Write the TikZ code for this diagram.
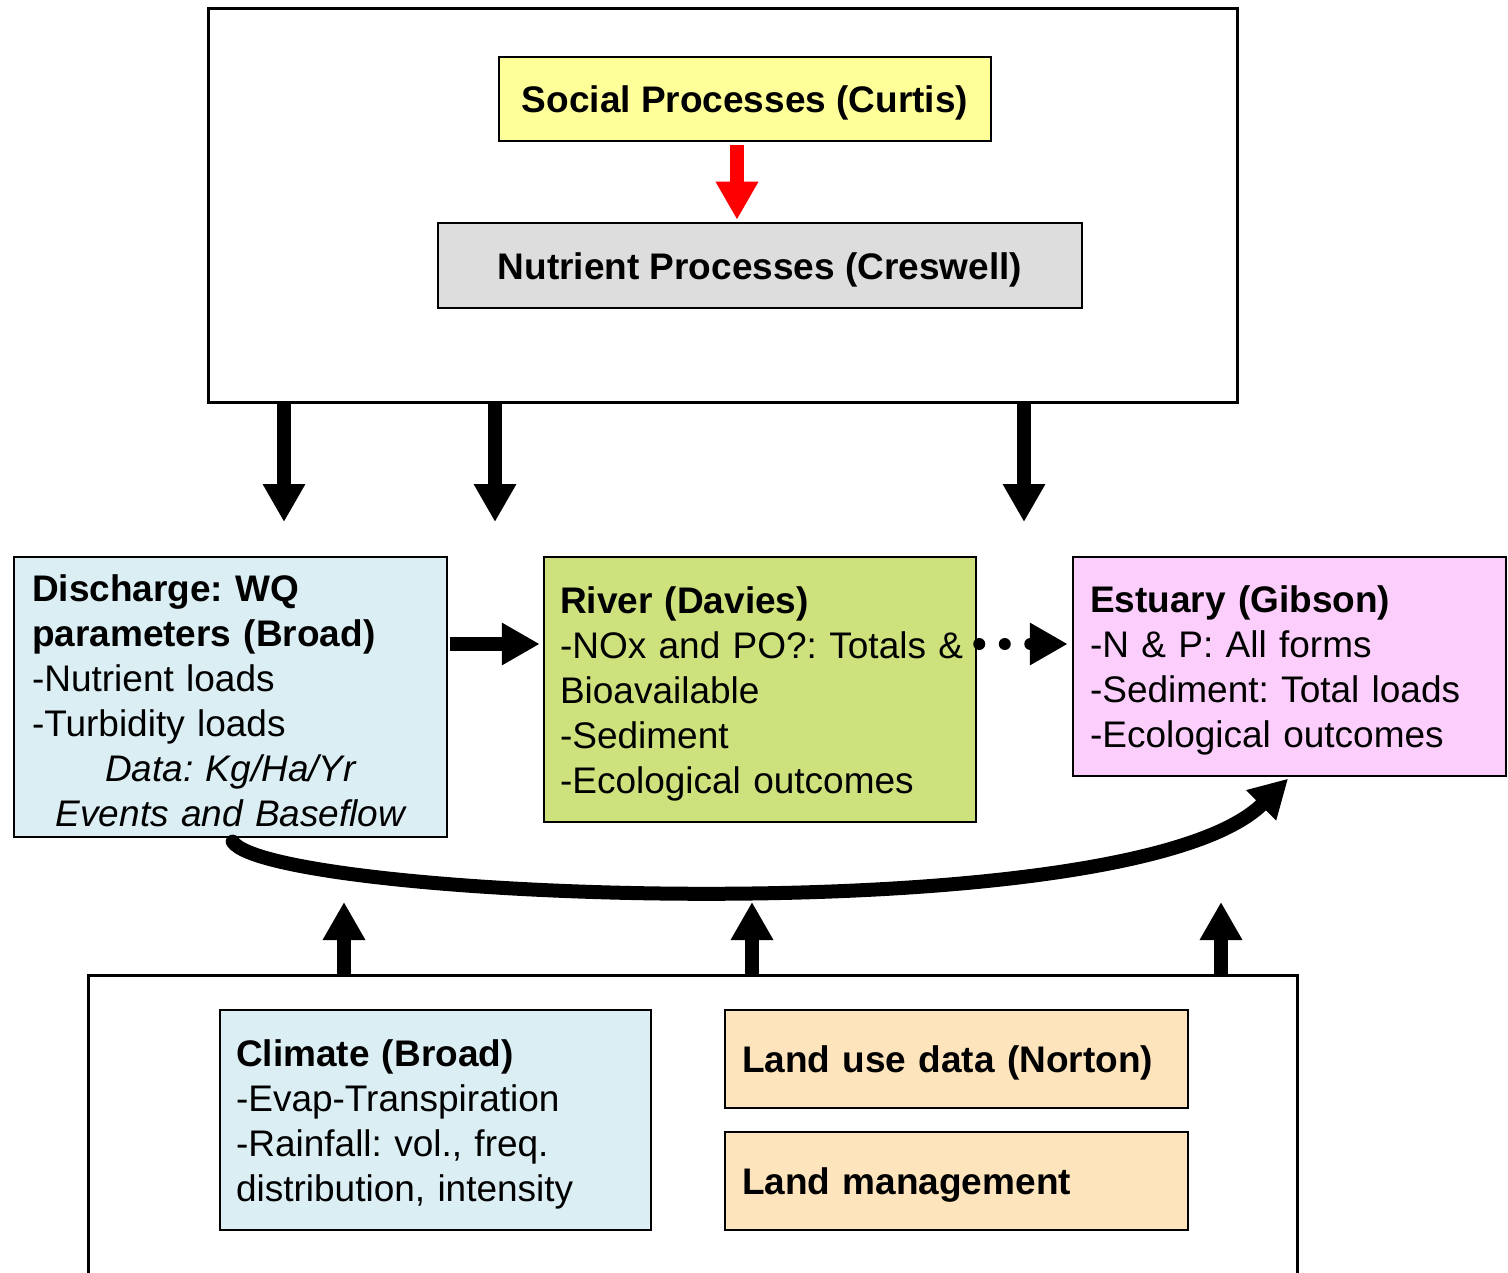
\documentclass[tikz,border=0pt]{standalone}
\usepackage{fontspec}
\setmainfont{Liberation Sans}
\usetikzlibrary{arrows.meta,positioning}
\definecolor{socialyellow}{RGB}{255,255,153}
\definecolor{nutrientgray}{RGB}{221,221,221}
\definecolor{waterblue}{RGB}{219,238,243}
\definecolor{rivergreen}{RGB}{205,225,125}
\definecolor{estuarypink}{RGB}{252,206,252}
\definecolor{landorange}{RGB}{253,228,188}
\frenchspacing

\begin{document}
\begin{tikzpicture}[x=1pt,y=-1pt,
       box/.style={draw=black,line width=2.5pt,inner sep=0pt,align=left,
                   font=\fontsize{37}{45}\selectfont,
                   execute at begin node={\rule{0pt}{0.95em}\ignorespaces}},
       frame/.style={draw=black,line width=3pt},
       block/.style={line width=14pt,-{Triangle[width=40pt,length=38pt]}},
       dots/.style={line width=12pt,line cap=round,dash pattern=on 0pt off 25.5pt,
                    -{Triangle[width=40pt,length=38pt]}}]
       \useasboundingbox (0,0) rectangle (1508,1273);

       \coordinate (D1) at (284,522);
       \coordinate (D2) at (495,522);
       \coordinate (D3) at (1024,522);

       \coordinate (U1) at (344,902);
       \coordinate (U2) at (752,902);
       \coordinate (U3) at (1221,902);

       \coordinate (LT) at (0,975);
       \coordinate (ROW) at (0,644);
       \coordinate (RX) at (737,0);

       \node[frame,minimum width=1029pt,minimum height=393pt] (upper) at (722.5,205.5) {};
       \draw[frame] (88,1280) |- (1297,975) -- (1297,1280);

       \node[box,fill=socialyellow,align=center,minimum width=492pt,minimum height=84pt]
            (social) at (745,99) {\textbf{Social Processes (Curtis)}};
       \node[box,fill=nutrientgray,align=center,minimum width=644pt,minimum height=85pt]
            (nutrient) at (760,265.5) {\textbf{Nutrient Processes (Creswell)}};

       \node[box,execute at begin node={},fill=waterblue,minimum width=433pt,minimum height=280pt,text width=397pt]
            (discharge) at (230.5,697) {\textbf{Discharge: WQ}\\
            \textbf{parameters (Broad)}\\
            -Nutrient loads\\
            -Turbidity loads\\
            \makebox[\linewidth]{\itshape Data: Kg/Ha/Yr}\\
            \makebox[\linewidth]{\itshape Events and Baseflow}};
       \node[box,fill=rivergreen,minimum width=432pt,minimum height=265pt,text width=400pt]
            (river) at (760,689.5) {\textbf{River (Davies)}\\
            \mbox{-NOx and PO?: Totals \&}\\
            Bioavailable\\
            -Sediment\\
            -Ecological outcomes};
       \node[box,fill=estuarypink,minimum width=433pt,minimum height=219pt,text width=399pt]
            (estuary) at (1289.5,666.5) {\textbf{Estuary (Gibson)}\\
            -N \& P: All forms\\
            -Sediment: Total loads\\
            -Ecological outcomes};

       \node[box,fill=waterblue,minimum width=431pt,minimum height=220pt,text width=399pt]
            (climate) at (435.5,1120) {\textbf{Climate (Broad)}\\
            -Evap-Transpiration\\
            -Rainfall: vol., freq.\\
            distribution, intensity};
       \node[box,fill=landorange,minimum width=463pt,minimum height=98pt,text width=429pt]
            (landuse) at (956.5,1059) {\textbf{Land use data (Norton)}};
       \node[box,fill=landorange,minimum width=463pt,minimum height=98pt,text width=429pt]
            (landmgmt) at (956.5,1181) {\textbf{Land management}};

       \draw[block,red,shorten <=3pt,shorten >=2pt] (social.south -| RX) -- (nutrient.north -| RX);

       \draw[block] (upper.south -| D1) -- (D1);
       \draw[block] (upper.south -| D2) -- (D2);
       \draw[block] (upper.south -| D3) -- (D3);

       \draw[block] (LT -| U1) -- (U1);
       \draw[block] (LT -| U2) -- (U2);
       \draw[block] (LT -| U3) -- (U3);

       \draw[block,shorten <=2pt,shorten >=3pt] (discharge.east |- ROW) -- (river.west |- ROW);
       \draw[dots,shorten <=2pt,shorten >=4pt] (river.east |- ROW) -- (estuary.west |- ROW);

       \draw[block,line cap=round,shorten <=4pt,shorten >=2pt] (discharge.south)
            .. controls (270,900) and (1130,935) .. (estuary.south);
\end{tikzpicture}
\end{document}
